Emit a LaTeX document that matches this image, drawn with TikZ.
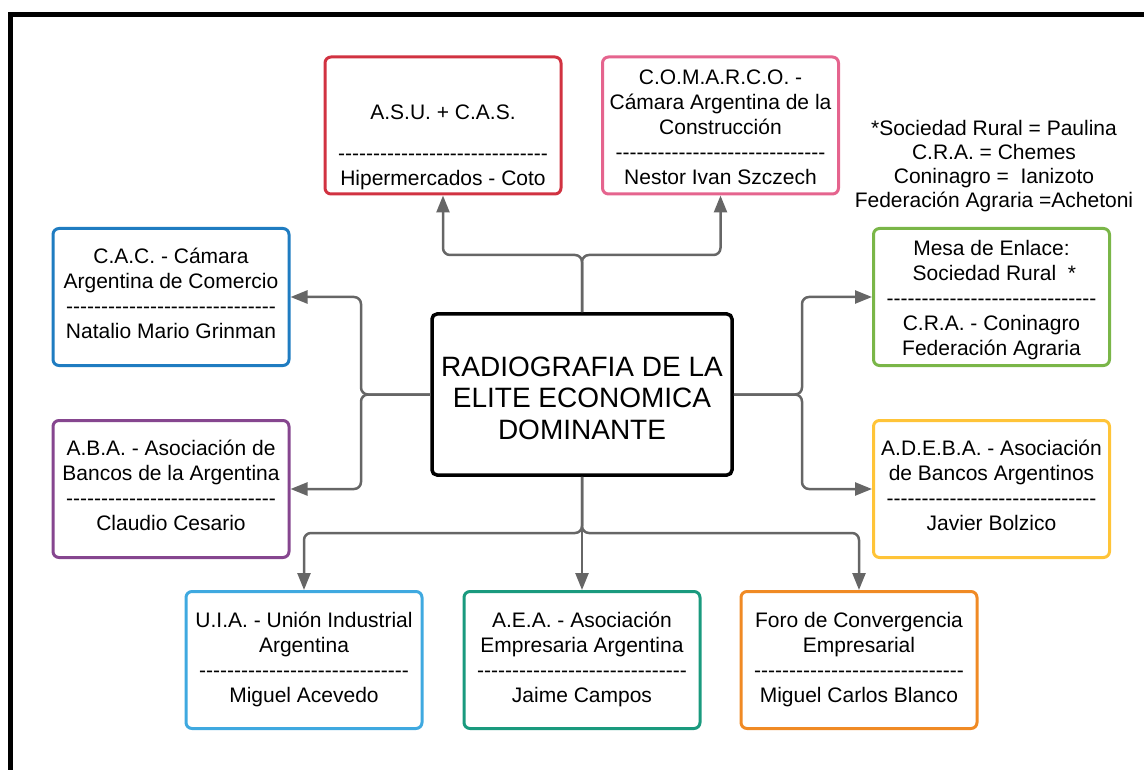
\documentclass[tikz,border=0pt]{standalone}
\usepackage{fontspec}
\setmainfont{Liberation Sans}[Ligatures=TeXOff]
\usetikzlibrary{arrows.meta}
\definecolor{linec}{HTML}{666666}
\definecolor{asuC}{HTML}{D13241}
\definecolor{comC}{HTML}{E5648E}
\definecolor{cacC}{HTML}{1F7CC1}
\definecolor{abaC}{HTML}{86468F}
\definecolor{mesaC}{HTML}{7AB648}
\definecolor{adebaC}{HTML}{FFC438}
\definecolor{uiaC}{HTML}{3FA9E0}
\definecolor{aeaC}{HTML}{1A9A7E}
\definecolor{foroC}{HTML}{F08A24}
\newcommand\bs{\rule[-6.5pt]{0pt}{25pt}}
\newcommand\ns{\rule[-6.5pt]{0pt}{24pt}}
\newcommand\tS{\rule[-9pt]{0pt}{31.7pt}}
\newcommand\dl{------------------------------}
\tikzset{
  boxs/.style={draw, rounded corners=6pt, line width=3pt, minimum width=236pt, minimum height=137pt, inner sep=0pt, fill=white},
  txt/.style={align=center, inner sep=0pt, font=\fontsize{21}{25}\selectfont},
  conn/.style={draw=linec, line width=2.5pt, rounded corners=7pt, -{Triangle[length=17pt,width=13pt]}},
}
\begin{document}
\begin{tikzpicture}[x=1pt,y=-1pt]
\useasboundingbox (0,0) rectangle (1144,770);
% frame
\draw[line width=5pt] (10.5,770) -- (10.5,14.5) -- (1144,14.5);
% boxes
\node[boxs, draw=asuC] (asu) at (443,125.5) {};
\node[boxs, draw=comC] (com) at (720.5,125.5) {};
\node[boxs, draw=cacC] (cac) at (171,297) {};
\node[boxs, draw=abaC] (aba) at (171,489) {};
\node[boxs, draw=mesaC] (mesa) at (991.5,297) {};
\node[boxs, draw=adebaC] (adeba) at (991.5,489) {};
\node[boxs, draw=uiaC] (uia) at (304,660) {};
\node[boxs, draw=aeaC] (aea) at (582,660) {};
\node[boxs, draw=foroC] (foro) at (859,660) {};
\node[draw, rounded corners=5pt, line width=3.5pt, minimum width=300pt, minimum height=161pt, inner sep=0pt] (c) at (582,394.5) {};
% texts
\node[txt] (asuT) at (443,146.5) {\bs A.S.U. + C.A.S.\\[16pt]\bs\dl\\\bs Hipermercados - Coto};
\node[txt] (comT) at (720.5,128.5) {\bs C.O.M.A.R.C.O. -\\\bs Cámara Argentina de la\\\bs Construcción\\\bs\dl\\\bs Nestor Ivan Szczech};
\node[txt] (cacT) at (171,295) {\bs C.A.C. - Cámara\\\bs Argentina de Comercio\\\bs\dl\\\bs Natalio Mario Grinman};
\node[txt] (mesaT) at (991.5,299.5) {\bs Mesa de Enlace:\\\bs\ Sociedad Rural\ \ *\\\bs\dl\\\bs C.R.A. - Coninagro\\\bs Federación Agraria};
\node[txt] (abaT) at (171,487) {\bs A.B.A. - Asociación de\\\bs Bancos de la Argentina\\\bs\dl\\\bs Claudio Cesario};
\node[txt] (adebaT) at (991.5,487) {\bs A.D.E.B.A. - Asociación\\\bs de Bancos Argentinos\\\bs\dl\\\bs Javier Bolzico};
\node[txt] (uiaT) at (304,659) {\bs U.I.A. - Unión Industrial\\\bs Argentina\\\bs\dl\\\bs Miguel Acevedo};
\node[txt] (aeaT) at (582,659) {\bs A.E.A. - Asociación\\\bs Empresaria Argentina\\\bs\dl\\\bs Jaime Campos};
\node[txt] (foroT) at (859,659) {\bs Foro de Convergencia\\\bs Empresarial\\\bs\dl\\\bs Miguel Carlos Blanco};
\node[align=center, inner sep=0pt, font=\fontsize{28}{31.7}\selectfont] (cT) at (582,401) {\tS RADIOGRAFIA DE LA\\\tS ELITE ECONOMICA\\\tS DOMINANTE};
\node[align=center, inner sep=0pt, font=\fontsize{21}{24}\selectfont] (notes) at (994,166) {\ns *Sociedad Rural = Paulina\\\ns C.R.A. = Chemes\\\ns Coninagro = \ Ianizoto\\\ns Federación Agraria =Achetoni};
% junctions
\coordinate (jt) at (582,255);
\coordinate (jl) at (361,394.5);
\coordinate (jr) at (802,394.5);
\coordinate (jb) at (582,533);
% connectors
\draw[conn] (c.north) -- (jt) -| (asu.south);
\draw[conn] (c.north) -- (jt) -| (com.south);
\draw[conn] (c.west) -- (jl) |- (cac.east);
\draw[conn] (c.west) -- (jl) |- (aba.east);
\draw[conn] (c.east) -- (jr) |- (mesa.west);
\draw[conn] (c.east) -- (jr) |- (adeba.west);
\draw[conn] (c.south) -- (jb) -| (uia.north);
\draw[conn] (c.south) -- (aea.north);
\draw[conn] (c.south) -- (jb) -| (foro.north);
\end{tikzpicture}
\end{document}
